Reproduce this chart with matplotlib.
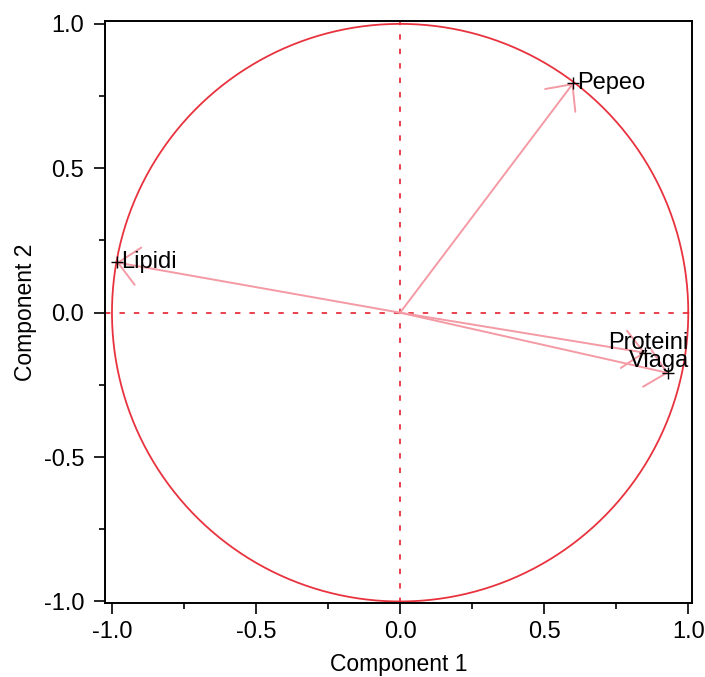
import numpy as np
import matplotlib
matplotlib.use('Agg')
import matplotlib.pyplot as plt
import matplotlib.transforms as mtransforms
from matplotlib.ticker import MultipleLocator, FormatStrFormatter

# loadings
names = ['Pepeo', 'Lipidi', 'Proteini', 'Viaga']
comp1 = [0.601, -0.984, 0.851, 0.931]
comp2 = [0.795, 0.174, -0.139, -0.209]

plt.rcParams['font.family'] = ['Liberation Sans', 'DejaVu Sans']

fig = plt.figure(figsize=(7.05, 6.77), dpi=100)
ax = fig.add_axes([0.149, 0.109, 0.833, 0.860])

red = '#e8333f'
pink = '#f49aa4'

# unit circle
t = np.linspace(0, 2 * np.pi, 400)
ax.plot(np.cos(t), np.sin(t), color=red, lw=1.3, zorder=2)

# dotted axes through origin
ax.axhline(0, color=red, lw=1.3, ls=(0, (3, 5)), zorder=1)
ax.axvline(0, color=red, lw=1.3, ls=(0, (3, 5)), zorder=1)

# vectors with open arrow heads
for x, y in zip(comp1, comp2):
    ax.annotate('', xy=(x, y), xytext=(0, 0),
                arrowprops=dict(arrowstyle='->,head_length=0.73,head_width=0.68',
                                mutation_scale=20, color=pink, lw=1.4,
                                shrinkA=0, shrinkB=0), zorder=3)
    ax.plot(x, y, marker='+', color='black', ms=8, mew=1.0, zorder=4)

# labels: right of the point, or pulled against the right edge (and nudged up)
edge = mtransforms.blended_transform_factory(ax.transAxes, ax.transData)
lift = {'Proteini': 7, 'Viaga': 9}
for name, x, y in zip(names, comp1, comp2):
    if x > 0.8:
        ax.annotate(name, xy=(0.994, y), xycoords=edge, xytext=(0, lift[name]),
                    textcoords='offset points', fontsize=17,
                    ha='right', va='center', zorder=5)
    else:
        ax.annotate(name, xy=(x, y), xytext=(3, 0), textcoords='offset points',
                    fontsize=17, ha='left', va='center', zorder=5)

ax.set_xlim(-1.024, 1.014)
ax.set_ylim(-1.006, 1.01)

ax.xaxis.set_major_locator(MultipleLocator(0.5))
ax.xaxis.set_minor_locator(MultipleLocator(0.25))
ax.yaxis.set_major_locator(MultipleLocator(0.5))
ax.yaxis.set_minor_locator(MultipleLocator(0.25))
ax.xaxis.set_major_formatter(FormatStrFormatter('%.1f'))
ax.yaxis.set_major_formatter(FormatStrFormatter('%.1f'))

ax.tick_params(which='major', length=8, width=1.2, labelsize=17)
ax.tick_params(which='minor', length=4, width=1.2)
ax.tick_params(axis='x', pad=5)
ax.tick_params(axis='y', pad=7)
for s in ax.spines.values():
    s.set_linewidth(1.4)

ax.set_xlabel('Component 1', fontsize=16.5, labelpad=7)
ax.set_ylabel('Component 2', fontsize=16.5, labelpad=5)

fig.savefig('out.png', dpi=100)
